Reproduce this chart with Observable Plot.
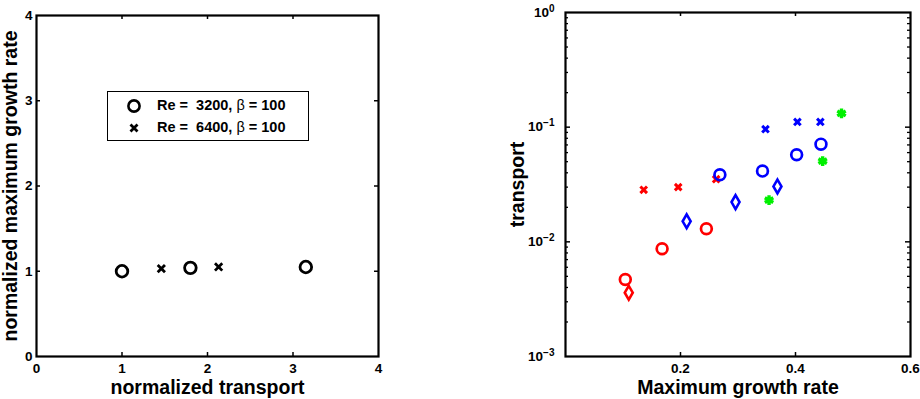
<!DOCTYPE html>
<html><head><meta charset="utf-8">
<script src="https://cdn.jsdelivr.net/npm/d3@7"></script>
<script src="https://cdn.jsdelivr.net/npm/@observablehq/plot@0.6"></script>
<style>
body{margin:0;background:#fff;}
#wrap{position:relative;width:920px;height:399px;overflow:hidden;font-family:"Liberation Sans",Arial,sans-serif;background:#fff;}
#left{position:absolute;left:0;top:0;}
#right{position:absolute;left:480px;top:0;}
#legend{position:absolute;left:107px;top:91px;width:200px;height:48px;border:1px solid #000;background:#fff;}
.row{position:absolute;left:0;height:20px;width:200px;}
.row svg{position:absolute;left:18px;top:2px;}
.row span{position:absolute;left:49px;top:1px;font-weight:bold;font-size:14.5px;white-space:pre;line-height:17px;}
.row span b{font-weight:normal;}
</style></head><body>
<div id="wrap"><div id="left"></div><div id="right"></div><div id="legend"></div></div>
<script>
// ---- left panel data ----
const leftCircleX = [1.0, 1.80, 3.15];
const leftCircleY = [1.0, 1.04, 1.05];
const leftCrossX = [1.46, 2.13];
const leftCrossY = [1.03, 1.05];
const leftTicks = [0, 1, 2, 3, 4];
const leftLegendLabels = ["Re =  3200, ", "Re =  6400, "];
const leftLegendBeta = ["β", "β"];
const leftLegendTail = [" = 100", " = 100"];
const leftXLabel = "normalized transport";
const leftYLabel = "normalized maximum growth rate";

// ---- right panel data ----
const redCircleX = [0.104, 0.168, 0.245];
const redCircleY = [0.0047, 0.0087, 0.013];
const redDiamondX = [0.110];
const redDiamondY = [0.0036];
const redCrossX = [0.136, 0.196, 0.262];
const redCrossY = [0.0284, 0.030, 0.0352];
const blueCircleX = [0.2685, 0.3426, 0.402, 0.4443];
const blueCircleY = [0.0385, 0.0414, 0.0574, 0.0711];
const blueDiamondX = [0.2107, 0.2957, 0.3686];
const blueDiamondY = [0.0151, 0.0222, 0.0304];
const blueCrossX = [0.3478, 0.4033, 0.4432];
const blueCrossY = [0.096, 0.111, 0.111];
const greenStarX = [0.354, 0.4472, 0.480];
const greenStarY = [0.0231, 0.0506, 0.1317];
const rightXTicks = [0.2, 0.4, 0.6];
const rightXTickMarks = [0.2, 0.4];
const rightYTicks = [0.001, 0.01, 0.1, 1];
const rightYExponents = ["−3", "−2", "−1", "0"];
const rightYMinor = [0.002,0.003,0.004,0.005,0.006,0.007,0.008,0.009,
                     0.02,0.03,0.04,0.05,0.06,0.07,0.08,0.09,
                     0.2,0.3,0.4,0.5,0.6,0.7,0.8,0.9];
const rightXLabel = "Maximum growth rate";
const rightYLabel = "transport";

const zip = (xs, ys) => xs.map((x, i) => ({x, y: ys[i]}));
const FONT = "Liberation Sans, Arial, Helvetica, sans-serif";
const labelStyle = {fontSize: 19.5, fontWeight: "bold", fill: "#000", textAnchor: "middle", lineAnchor: "middle"};
const TICKFS = 13.5;

// ---- left plot ----
const W1 = 400, H = 399, mL1 = 36, mR1 = 22, mT1 = 15, mB1 = 43;
const iH1 = H - mT1 - mB1, iW1 = W1 - mL1 - mR1;
const inner1 = leftTicks.slice(1, -1);
const leftPlot = Plot.plot({
  width: W1, height: H, marginLeft: mL1, marginRight: mR1, marginTop: mT1, marginBottom: mB1,
  style: {fontFamily: FONT, fontWeight: "bold", fontSize: TICKFS + "px", color: "#000", background: "#fff", overflow: "visible"},
  x: {domain: [0, 4]}, y: {domain: [0, 4]},
  marks: [
    Plot.axisX(leftTicks, {tickSize: 0, tickPadding: 7, label: null, fontSize: TICKFS, fontWeight: "bold", tickFormat: d => String(d)}),
    Plot.axisY(leftTicks, {tickSize: 0, tickPadding: 4, label: null, fontSize: TICKFS, fontWeight: "bold", tickFormat: d => String(d)}),
    Plot.tickX(inner1, {x: d => d, insetTop: iH1 - 4, stroke: "#000", strokeWidth: 1.5}),
    Plot.tickX(inner1, {x: d => d, insetBottom: iH1 - 4, stroke: "#000", strokeWidth: 1.5}),
    Plot.tickY(inner1, {y: d => d, insetRight: iW1 - 4, stroke: "#000", strokeWidth: 1.5}),
    Plot.tickY(inner1, {y: d => d, insetLeft: iW1 - 4, stroke: "#000", strokeWidth: 1.5}),
    Plot.dot(zip(leftCircleX, leftCircleY), {x: "x", y: "y", r: 5.8, stroke: "#000", strokeWidth: 2.8, symbol: "circle"}),
    Plot.dot(zip(leftCrossX, leftCrossY), {x: "x", y: "y", r: 3.4, stroke: "#000", strokeWidth: 2.8, symbol: "times"}),
    Plot.frame({stroke: "#000", strokeWidth: 2.2}),
    Plot.text([leftXLabel], {text: d => d, frameAnchor: "bottom", dy: 31, ...labelStyle}),
    Plot.text([leftYLabel], {text: d => d, frameAnchor: "left", rotate: -90, dx: -26, ...labelStyle})
  ]
});
document.getElementById("left").appendChild(leftPlot);

// ---- right plot ----
const W2 = 440, mL2 = 85, mR2 = 10, mT2 = 12, mB2 = 43;
const iH2 = H - mT2 - mB2, iW2 = W2 - mL2 - mR2;
const majorInner = rightYTicks.slice(1, -1);
const rightPlot = Plot.plot({
  width: W2, height: H, marginLeft: mL2, marginRight: mR2, marginTop: mT2, marginBottom: mB2,
  style: {fontFamily: FONT, fontWeight: "bold", fontSize: TICKFS + "px", color: "#000", background: "#fff", overflow: "visible"},
  x: {domain: [0, 0.6]},
  y: {type: "log", domain: [0.001, 1]},
  marks: [
    Plot.axisX(rightXTicks, {tickSize: 0, tickPadding: 7, label: null, fontSize: TICKFS, fontWeight: "bold", tickFormat: d => d.toFixed(1)}),
    Plot.axisY(rightYTicks, {tickSize: 0, tickPadding: 11, label: null, fontSize: TICKFS, fontWeight: "bold",
      tickFormat: d => rightYExponents[rightYTicks.indexOf(d)]}),
    Plot.tickX(rightXTickMarks, {x: d => d, insetTop: iH2 - 4, stroke: "#000", strokeWidth: 1.5}),
    Plot.tickX(rightXTickMarks, {x: d => d, insetBottom: iH2 - 4, stroke: "#000", strokeWidth: 1.5}),
    Plot.tickY(majorInner, {y: d => d, insetRight: iW2 - 5, stroke: "#000", strokeWidth: 1.5}),
    Plot.tickY(majorInner, {y: d => d, insetLeft: iW2 - 5, stroke: "#000", strokeWidth: 1.5}),
    Plot.tickY(rightYMinor, {y: d => d, insetRight: iW2 - 3, stroke: "#000", strokeWidth: 1.3}),
    Plot.tickY(rightYMinor, {y: d => d, insetLeft: iW2 - 3, stroke: "#000", strokeWidth: 1.3}),
    Plot.dot(zip(redCircleX, redCircleY), {x: "x", y: "y", r: 5.4, stroke: "#ff0000", strokeWidth: 2.7, symbol: "circle"}),
    Plot.dot(zip(redDiamondX, redDiamondY), {x: "x", y: "y", r: 4.2, stroke: "#ff0000", strokeWidth: 2.6, symbol: "diamond"}),
    Plot.dot(zip(redCrossX, redCrossY), {x: "x", y: "y", r: 3.1, stroke: "#ff0000", strokeWidth: 3, symbol: "times"}),
    Plot.dot(zip(blueCircleX, blueCircleY), {x: "x", y: "y", r: 5.4, stroke: "#0000ff", strokeWidth: 2.7, symbol: "circle"}),
    Plot.dot(zip(blueDiamondX, blueDiamondY), {x: "x", y: "y", r: 4.2, stroke: "#0000ff", strokeWidth: 2.6, symbol: "diamond"}),
    Plot.dot(zip(blueCrossX, blueCrossY), {x: "x", y: "y", r: 3.1, stroke: "#0000ff", strokeWidth: 3, symbol: "times"}),
    Plot.dot(zip(greenStarX, greenStarY), {x: "x", y: "y", r: 4.6, stroke: "#00f000", fill: "#00f000", strokeWidth: 3.4, symbol: "asterisk"}),
    Plot.frame({stroke: "#000", strokeWidth: 2.2}),
    Plot.text([rightXLabel], {text: d => d, frameAnchor: "bottom", dy: 31, ...labelStyle}),
    Plot.text([rightYLabel], {text: d => d, frameAnchor: "left", rotate: -90, dx: -48, ...labelStyle})
  ]
});
// turn exponent labels into 10^k with superscript
rightPlot.querySelectorAll('g[aria-label="y-axis tick label"] text').forEach(t => {
  const exp = t.textContent;
  t.textContent = "10";
  const ts = document.createElementNS("http://www.w3.org/2000/svg", "tspan");
  ts.setAttribute("baseline-shift", "super");
  ts.setAttribute("font-size", "10");
  ts.textContent = exp;
  t.appendChild(ts);
});
document.getElementById("right").appendChild(rightPlot);

// ---- legend (left panel) ----
const legend = document.getElementById("legend");
const legendSymbols = [
  '<svg width="16" height="16"><circle cx="8" cy="8" r="5.6" fill="none" stroke="#000" stroke-width="2.6"/></svg>',
  '<svg width="16" height="16"><path d="M4.5,4.5L11.5,11.5M11.5,4.5L4.5,11.5" stroke="#000" stroke-width="2.8"/></svg>'
];
leftLegendLabels.forEach((lab, i) => {
  const row = document.createElement("div");
  row.className = "row";
  row.style.top = (i === 0 ? 4 : 26) + "px";
  row.innerHTML = legendSymbols[i] + '<span>' + lab + '<b>' + leftLegendBeta[i] + '</b>' + leftLegendTail[i] + '</span>';
  legend.appendChild(row);
});
</script>
</body></html>
